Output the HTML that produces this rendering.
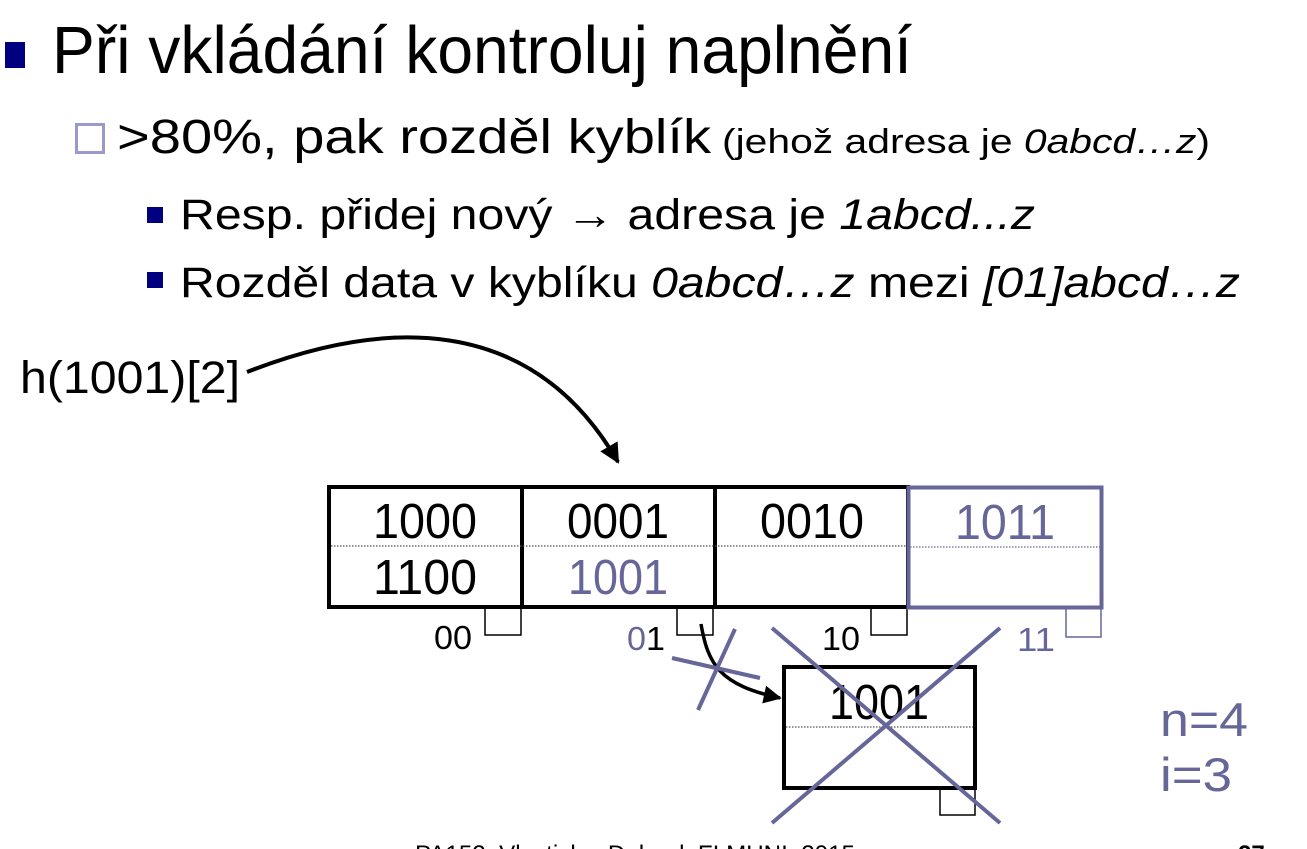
<!DOCTYPE html>
<html><head><meta charset="utf-8"><style>
html,body{margin:0;padding:0;background:#fff;}
svg{display:block;}
text{font-family:"Liberation Sans",Arial,sans-serif;}
</style></head><body>
<svg width="1307" height="849" viewBox="0 0 1307 849" xmlns="http://www.w3.org/2000/svg">
<defs>
<marker id="ah" viewBox="0 0 10 10" markerWidth="22" markerHeight="18" refX="9" refY="5" orient="auto" markerUnits="userSpaceOnUse"><path d="M0,0 L10,5 L0,10 z" fill="#000"/></marker>
<marker id="ah2" viewBox="0 0 10 10" markerWidth="22" markerHeight="20" refX="9" refY="5" orient="auto" markerUnits="userSpaceOnUse"><path d="M0,0 L10,5 L0,10 z" fill="#000"/></marker></defs>
<rect x="5" y="42" width="20" height="26" fill="#000080"/>
<text x="52" y="73" font-size="67" textLength="860" lengthAdjust="spacingAndGlyphs">Při vkládání kontroluj naplnění</text>
<rect x="76.5" y="124.5" width="27" height="28" fill="none" stroke="#9999cc" stroke-width="3"/>
<text x="117" y="153" font-size="48" textLength="594" lengthAdjust="spacingAndGlyphs">&gt;80%, pak rozděl kyblík</text>
<text x="722" y="153" font-size="34" textLength="488" lengthAdjust="spacingAndGlyphs">(jehož adresa je <tspan font-style="italic">0abcd…z</tspan>)</text>
<rect x="147" y="207" width="16" height="16" fill="#000080"/>
<text x="180" y="229" font-size="43" textLength="855" lengthAdjust="spacingAndGlyphs">Resp. přidej nový → adresa je <tspan font-style="italic">1abcd...z</tspan></text>
<rect x="147" y="272" width="16" height="16" fill="#000080"/>
<text x="180" y="297" font-size="43" textLength="1060" lengthAdjust="spacingAndGlyphs">Rozděl data v kyblíku <tspan font-style="italic">0abcd…z</tspan> mezi <tspan font-style="italic">[01]abcd…z</tspan></text>
<text x="20" y="393" font-size="45" textLength="220" lengthAdjust="spacingAndGlyphs">h(1001)[2]</text>
<path d="M247,372 C380,320 530,310 618,462" fill="none" stroke="#000" stroke-width="4" marker-end="url(#ah2)"/>
<g fill="none" stroke="#000" stroke-width="1.5">
<rect x="485" y="607" width="36" height="28"/>
<rect x="677" y="607" width="36" height="28"/>
<rect x="871" y="607" width="36" height="28"/>
<rect x="940" y="788" width="35" height="27"/>
</g>
<rect x="1066" y="608" width="35" height="29" fill="none" stroke="#666699" stroke-width="1.5"/>
<g fill="none" stroke="#000" stroke-width="4">
<rect x="329" y="487" width="579" height="120"/>
<line x1="522" y1="487" x2="522" y2="607"/>
<line x1="715" y1="487" x2="715" y2="607"/>
<rect x="784" y="667" width="191" height="121"/>
</g>
<g stroke="#555" stroke-width="1.2" stroke-dasharray="1.5,1.5">
<line x1="331" y1="546" x2="906" y2="546"/>
<line x1="786" y1="727" x2="973" y2="727"/>
</g>
<line x1="910" y1="547" x2="1100" y2="547" stroke="#666699" stroke-width="1.2" stroke-dasharray="1.5,1.5"/>
<rect x="908.5" y="487.5" width="193" height="120" fill="none" stroke="#666699" stroke-width="4"/>
<g font-size="49" text-anchor="middle">
<text x="425" y="538" textLength="104" lengthAdjust="spacingAndGlyphs">1000</text>
<text x="425" y="594" textLength="104" lengthAdjust="spacingAndGlyphs">1100</text>
<text x="618" y="538" textLength="102" lengthAdjust="spacingAndGlyphs">0001</text>
<text x="618" y="594" textLength="100" lengthAdjust="spacingAndGlyphs" fill="#666699">1001</text>
<text x="812" y="538" textLength="104" lengthAdjust="spacingAndGlyphs">0010</text>
<text x="1005" y="539" textLength="100" lengthAdjust="spacingAndGlyphs" fill="#666699">1011</text>
<text x="879" y="719" textLength="100" lengthAdjust="spacingAndGlyphs">1001</text>
</g>
<g font-size="33">
<text x="434" y="649" textLength="38" lengthAdjust="spacingAndGlyphs">00</text>
<text x="627" y="650" textLength="38" lengthAdjust="spacingAndGlyphs"><tspan fill="#666699">0</tspan>1</text>
<text x="822" y="650" textLength="38" lengthAdjust="spacingAndGlyphs">10</text>
<text x="1017" y="651" textLength="38" lengthAdjust="spacingAndGlyphs" fill="#666699">11</text>
</g>
<path d="M701,624 C708,665 720,685 780,698" fill="none" stroke="#000" stroke-width="3.5" marker-end="url(#ah)"/>
<g stroke="#666699" stroke-width="4">
<line x1="672" y1="658" x2="760" y2="678"/>
<line x1="735" y1="629" x2="698" y2="710"/>
<line x1="772" y1="628" x2="1000" y2="823"/>
<line x1="1000" y1="628" x2="772" y2="823"/>
</g>
<text x="1160" y="736" font-size="47" fill="#666699" textLength="88" lengthAdjust="spacingAndGlyphs">n=4</text>
<text x="1160" y="791" font-size="47" fill="#666699" textLength="72" lengthAdjust="spacingAndGlyphs">i=3</text>
<text x="415" y="862" font-size="24" textLength="440" lengthAdjust="spacingAndGlyphs">PA152, Vlastislav Dohnal, FI MUNI, 2015</text>
<text x="1238" y="862" font-size="24" font-weight="bold">27</text>
</svg>
</body></html>
